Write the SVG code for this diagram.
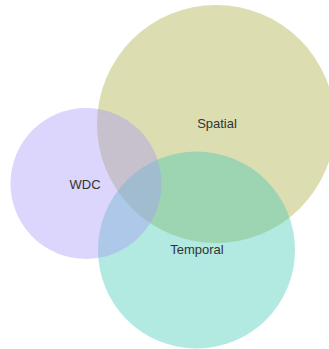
<svg xmlns="http://www.w3.org/2000/svg" width="329" height="349" viewBox="0 0 329 349">
<style>
.c{fill-opacity:0.4;stroke:none}
.t{font-family:"Liberation Sans",Arial,sans-serif;font-size:13px;fill:#333;text-anchor:middle}
</style>
<rect width="329" height="349" fill="#fff"/>
<g id="spatial"><circle class="c" cx="216" cy="124" r="119" fill="#a8ad3e"/></g>
<g id="temporal"><circle class="c" cx="196.5" cy="250" r="98.5" fill="#3fc8b2"/></g>
<g id="wdc"><circle class="c" cx="86" cy="183.5" r="75.5" fill="#a896f8"/></g>
<g id="labels">
<text class="t" x="217" y="128">Spatial</text>
<text class="t" x="85" y="189">WDC</text>
<text class="t" x="197" y="254">Temporal</text>
</g>
</svg>
